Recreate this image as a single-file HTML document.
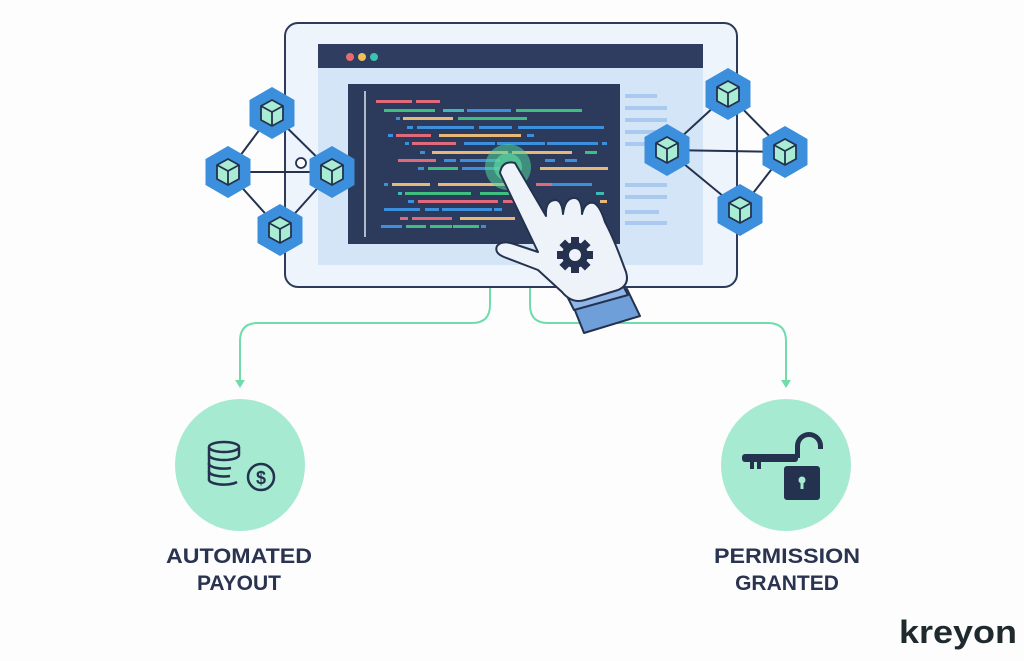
<!DOCTYPE html>
<html><head><meta charset="utf-8"><style>
html,body{margin:0;padding:0;background:#fdfdfd;}
svg{display:block}
text{font-family:"Liberation Sans",sans-serif;}
</style></head><body>
<svg width="1024" height="661" viewBox="0 0 1024 661" xmlns="http://www.w3.org/2000/svg">
<defs>
<g id="hx">
<polygon points="0,-26 22.5,-13 22.5,13 0,26 -22.5,13 -22.5,-13" fill="#3b8fdc"/>
<polygon points="0,-13 11,-7 11,7 0,13 -11,7 -11,-7" fill="#a8ecd4" stroke="#24324f" stroke-width="1.8" stroke-linejoin="round"/>
<polyline points="-11,-7 0,-1 11,-7" fill="none" stroke="#24324f" stroke-width="1.8"/>
<line x1="0" y1="-1" x2="0" y2="13" stroke="#24324f" stroke-width="1.8"/>
</g>
</defs>
<rect width="1024" height="661" fill="#fdfdfd"/>
<!-- connectors -->
<g fill="none" stroke="#6fdcaa" stroke-width="2">
<path d="M490,288 L490,305 Q490,323 472,323 L258,323 Q240,323 240,341 L240,384"/>
<path d="M530,288 L530,305 Q530,323 548,323 L768,323 Q786,323 786,341 L786,384"/>
</g>
<polygon points="235,380 245,380 240,388" fill="#6fdcaa"/>
<polygon points="781,380 791,380 786,388" fill="#6fdcaa"/>
<!-- monitor -->
<rect x="285" y="23" width="452" height="264" rx="13" fill="#eef4fb" stroke="#2d3a5a" stroke-width="2"/>
<rect x="318" y="44" width="385" height="221" fill="#d3e5f6"/>
<rect x="318" y="44" width="385" height="24" fill="#2e3d60"/>
<circle cx="350" cy="57" r="4" fill="#e86b72"/>
<circle cx="362" cy="57" r="4" fill="#efbf5e"/>
<circle cx="374" cy="57" r="4" fill="#3cc2b0"/>
<rect x="348" y="84" width="272" height="160" fill="#2c3a5c"/>
<line x1="365" y1="91" x2="365" y2="237" stroke="#dfe6f0" stroke-width="1.5"/>
<g fill="#a9c9ee">
<rect x="625" y="94" width="32" height="4"/><rect x="625" y="106" width="42" height="4"/><rect x="625" y="118" width="42" height="4"/><rect x="625" y="130" width="40" height="4"/><rect x="625" y="142" width="40" height="4"/>
<rect x="625" y="183" width="42" height="4"/><rect x="625" y="195" width="42" height="4"/><rect x="625" y="210" width="34" height="4"/><rect x="625" y="221" width="42" height="4"/>
</g>
<g>
<rect x="376" y="100" width="36" height="3" fill="#e06a7c"/><rect x="416" y="100" width="24" height="3" fill="#e06a7c"/>
<rect x="384" y="109" width="51" height="3" fill="#3fbf7f"/><rect x="443" y="109" width="21" height="3" fill="#3fb8b8"/><rect x="467" y="109" width="44" height="3" fill="#3b8fdc"/><rect x="516" y="109" width="66" height="3" fill="#3fbf7f"/>
<rect x="396" y="117" width="4" height="3" fill="#3b8fdc"/><rect x="403" y="117" width="50" height="3" fill="#e8b878"/><rect x="458" y="117" width="69" height="3" fill="#3fbf7f"/>
<rect x="407" y="126" width="6" height="3" fill="#3b8fdc"/><rect x="417" y="126" width="57" height="3" fill="#3b8fdc"/><rect x="479" y="126" width="33" height="3" fill="#3b8fdc"/><rect x="518" y="126" width="86" height="3" fill="#3b8fdc"/>
<rect x="388" y="134" width="5" height="3" fill="#3b8fdc"/><rect x="396" y="134" width="35" height="3" fill="#e06a7c"/><rect x="439" y="134" width="82" height="3" fill="#e8b878"/><rect x="527" y="134" width="7" height="3" fill="#3b8fdc"/>
<rect x="405" y="142" width="4" height="3" fill="#3b8fdc"/><rect x="412" y="142" width="44" height="3" fill="#e06a7c"/><rect x="464" y="142" width="31" height="3" fill="#3b8fdc"/><rect x="497" y="142" width="48" height="3" fill="#3b8fdc"/><rect x="547" y="142" width="51" height="3" fill="#3b8fdc"/><rect x="602" y="142" width="5" height="3" fill="#3b8fdc"/>
<rect x="420" y="151" width="5" height="3" fill="#3b8fdc"/><rect x="432" y="151" width="76" height="3" fill="#e8b878"/><rect x="512" y="151" width="60" height="3" fill="#e8b878"/><rect x="585" y="151" width="12" height="3" fill="#3fbf7f"/>
<rect x="398" y="159" width="38" height="3" fill="#e06a7c"/><rect x="444" y="159" width="12" height="3" fill="#3b8fdc"/><rect x="460" y="159" width="40" height="3" fill="#3b8fdc"/><rect x="545" y="159" width="10" height="3" fill="#3b8fdc"/><rect x="565" y="159" width="12" height="3" fill="#3b8fdc"/>
<rect x="418" y="167" width="6" height="3" fill="#3b8fdc"/><rect x="428" y="167" width="30" height="3" fill="#3fbf7f"/><rect x="462" y="167" width="40" height="3" fill="#3b8fdc"/><rect x="540" y="167" width="68" height="3" fill="#e8b878"/>
<rect x="384" y="183" width="4" height="3" fill="#3b8fdc"/><rect x="392" y="183" width="38" height="3" fill="#e8b878"/><rect x="438" y="183" width="70" height="3" fill="#e8b878"/><rect x="536" y="183" width="22" height="3" fill="#e06a7c"/><rect x="552" y="183" width="40" height="3" fill="#3b8fdc"/>
<rect x="398" y="192" width="4" height="3" fill="#3fb8b8"/><rect x="405" y="192" width="66" height="3" fill="#3fbf7f"/><rect x="480" y="192" width="30" height="3" fill="#3fbf7f"/><rect x="596" y="192" width="8" height="3" fill="#3fb8b8"/>
<rect x="408" y="200" width="6" height="3" fill="#3b8fdc"/><rect x="418" y="200" width="80" height="3" fill="#e06a7c"/><rect x="503" y="200" width="10" height="3" fill="#e06a7c"/><rect x="600" y="200" width="7" height="3" fill="#e8b878"/>
<rect x="384" y="208" width="36" height="3" fill="#3b8fdc"/><rect x="425" y="208" width="14" height="3" fill="#3b8fdc"/><rect x="442" y="208" width="50" height="3" fill="#3b8fdc"/><rect x="494" y="208" width="8" height="3" fill="#3b8fdc"/>
<rect x="400" y="217" width="8" height="3" fill="#e06a7c"/><rect x="412" y="217" width="40" height="3" fill="#e06a7c"/><rect x="460" y="217" width="55" height="3" fill="#e8b878"/>
<rect x="381" y="225" width="21" height="3" fill="#3b8fdc"/><rect x="406" y="225" width="20" height="3" fill="#3fbf7f"/><rect x="430" y="225" width="22" height="3" fill="#3fbf7f"/><rect x="453" y="225" width="26" height="3" fill="#3fbf7f"/><rect x="481" y="225" width="5" height="3" fill="#3b8fdc"/>
</g>
<circle cx="508" cy="167" r="23" fill="#52d69a" opacity="0.55"/>
<circle cx="508" cy="167" r="14" fill="#5fe0a5" opacity="0.6"/>
<!-- networks -->
<g stroke="#24324f" stroke-width="2">
<line x1="272" y1="113" x2="228" y2="172"/><line x1="272" y1="113" x2="332" y2="172"/><line x1="228" y1="172" x2="332" y2="172"/><line x1="228" y1="172" x2="280" y2="230"/><line x1="332" y1="172" x2="280" y2="230"/>
<line x1="728" y1="94" x2="667" y2="150"/><line x1="728" y1="94" x2="785" y2="152"/><line x1="667" y1="150" x2="785" y2="152"/><line x1="667" y1="150" x2="740" y2="210"/><line x1="785" y1="152" x2="740" y2="210"/>
</g>
<circle cx="301" cy="163" r="5" fill="#fff" stroke="#24324f" stroke-width="1.8"/>
<use href="#hx" x="272" y="113"/><use href="#hx" x="228" y="172"/><use href="#hx" x="332" y="172"/><use href="#hx" x="280" y="230"/>
<use href="#hx" x="728" y="94"/><use href="#hx" x="667" y="150"/><use href="#hx" x="785" y="152"/><use href="#hx" x="740" y="210"/>
<!-- hand -->
<g stroke="#24324f" stroke-width="2" stroke-linejoin="round">
<polygon points="572,303 627,289 640,316 584,333" fill="#6f9fd8"/>
<polygon points="566,294 620,280 628,295 574,310" fill="#8fb6e6"/>
<path d="M500,173 Q502,160 515,163 L546,216 Q545,200 556,200 Q562,201 563,214 Q565,197 575,198 Q582,199 582,214 Q585,201 594,203 Q600,206 605,222 Q612,235 620,256 L626,272 Q630,285 618,290 L585,300 Q572,304 562,292 L538,270 L504,257 Q494,253 497,246 Q502,240 514,244 L538,252 Z" fill="#eef3fa"/>
</g>
<g fill="#24324f" transform="translate(575,255)">
<circle r="13"/>
<g><rect x="-4" y="-18" width="8" height="8"/><rect x="-4" y="10" width="8" height="8"/><rect x="-18" y="-4" width="8" height="8"/><rect x="10" y="-4" width="8" height="8"/></g>
<g transform="rotate(45)"><rect x="-4" y="-18" width="8" height="8"/><rect x="-4" y="10" width="8" height="8"/><rect x="-18" y="-4" width="8" height="8"/><rect x="10" y="-4" width="8" height="8"/></g>
<circle r="6" fill="#eef3fa"/>
</g>
<!-- bottom circles -->
<ellipse cx="240" cy="465" rx="65" ry="66" fill="#a6ead2"/>
<ellipse cx="786" cy="465" rx="65" ry="66" fill="#a6ead2"/>
<g fill="none" stroke="#24324f" stroke-width="2.5">
<ellipse cx="224" cy="447" rx="15" ry="5"/>
<path d="M209,447 v8 a15,5 0 0 0 30,0 v-8"/>
<path d="M209,455 v8 a15,5 0 0 0 22,5"/>
<path d="M209,463 v8 a15,5 0 0 0 21,5"/>
<path d="M209,471 v8 a15,5 0 0 0 28,3"/>
<circle cx="261" cy="477" r="13"/>
</g>
<text x="261" y="484" font-size="18" font-weight="bold" fill="#24324f" text-anchor="middle">$</text>
<g fill="#24324f">
<rect x="742" y="454" width="56" height="8" rx="3"/>
<rect x="750" y="460" width="4" height="9"/><rect x="757" y="460" width="4" height="9"/>
<path d="M795,458 v-12 a14,14 0 0 1 28,0 v3 h-5 v-3 a9,9 0 0 0 -18,0 v12 z"/>
<rect x="784" y="466" width="36" height="34" rx="3"/>
</g>
<circle cx="802" cy="480" r="3.5" fill="#a6ead2"/><rect x="800.5" y="481" width="3" height="8" fill="#a6ead2"/>
<g font-size="21" fill="#2a3350" text-anchor="middle" font-weight="bold">
<text x="239" y="563" textLength="146" lengthAdjust="spacingAndGlyphs">AUTOMATED</text>
<text x="239" y="590">PAYOUT</text>
<text x="787" y="563" textLength="146" lengthAdjust="spacingAndGlyphs">PERMISSION</text>
<text x="787" y="590">GRANTED</text>
</g>
<text x="899" y="643" font-size="32" font-weight="bold" fill="#1f2a2e" textLength="118" lengthAdjust="spacingAndGlyphs">kreyon</text>
</svg>
</body></html>
